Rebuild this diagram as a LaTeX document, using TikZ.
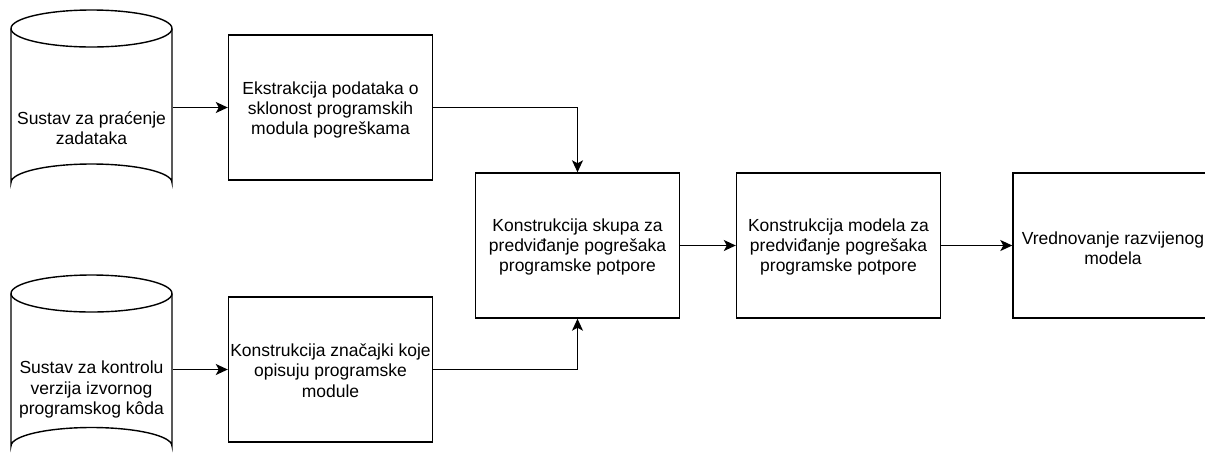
\documentclass[tikz,border=0pt]{standalone}
\usepackage{fontspec}
\setmainfont{Liberation Sans}
\usetikzlibrary{arrows.meta}
\begin{document}
\begin{tikzpicture}[x=1pt,y=-1pt,
  line width=1.4pt,
  txt/.style={align=center,font=\fontsize{17.5}{20.3}\selectfont,inner sep=0pt},
  box/.style={draw,minimum width=204pt,minimum height=145pt,inner sep=0pt},
  arr/.style={-{Stealth[length=12pt,width=11pt,inset=3pt]}}]
\useasboundingbox (0,0) rectangle (1205,459);
% cylinder 1
\draw (91.5,28.5) ellipse[x radius=80.5,y radius=18.5];
\draw (11,28.5) -- (11,182.5) arc[start angle=180,end angle=360,x radius=80.5,y radius=18.5] -- (172,28.5);
\node[minimum width=161pt,minimum height=150pt,inner sep=0pt] (c1) at (91.5,107.5) {};
\node[txt] at (91.5,128) {Sustav za praćenje\\zadataka};
% cylinder 2
\draw (91.5,293.5) ellipse[x radius=80.5,y radius=18.5];
\draw (11,293.5) -- (11,446) arc[start angle=180,end angle=360,x radius=80.5,y radius=18.5] -- (172,293.5);
\node[minimum width=161pt,minimum height=150pt,inner sep=0pt] (c2) at (91.5,369.5) {};
\node[txt] at (91.5,389.5) {Sustav za kontrolu\\verzija izvornog\\programskog kôda};
% boxes
\node[box] (b1) at (330.5,107.5) {};
\node[txt] at (330.5,110) {Ekstrakcija podataka o\\sklonost programskih\\modula pogreškama};
\node[box] (b2) at (330.5,369.5) {};
\node[txt] at (330.5,370.5) {Konstrukcija značajki koje\\opisuju programske\\module};
\node[box] (b3) at (577.5,245.5) {};
\node[txt] at (577.5,247) {Konstrukcija skupa za\\predviđanje pogrešaka\\programske potpore};
\node[box] (b4) at (838.5,245.5) {};
\node[txt] at (838.5,247) {Konstrukcija modela za\\predviđanje pogrešaka\\programske potpore};
\node[box] (b5) at (1115,245.5) {};
\node[txt] at (1113,248) {Vrednovanje razvijenog\\modela};
% connectors
\draw[arr] (c1.east) -- (b1.west);
\draw[arr] (c2.east) -- (b2.west);
\draw[arr] (b1.east) -| (b3.north);
\draw[arr] (b2.east) -| (b3.south);
\draw[arr] (b3.east) -- (b4.west);
\draw[arr] (b4.east) -- (b5.west);
\end{tikzpicture}
\end{document}
